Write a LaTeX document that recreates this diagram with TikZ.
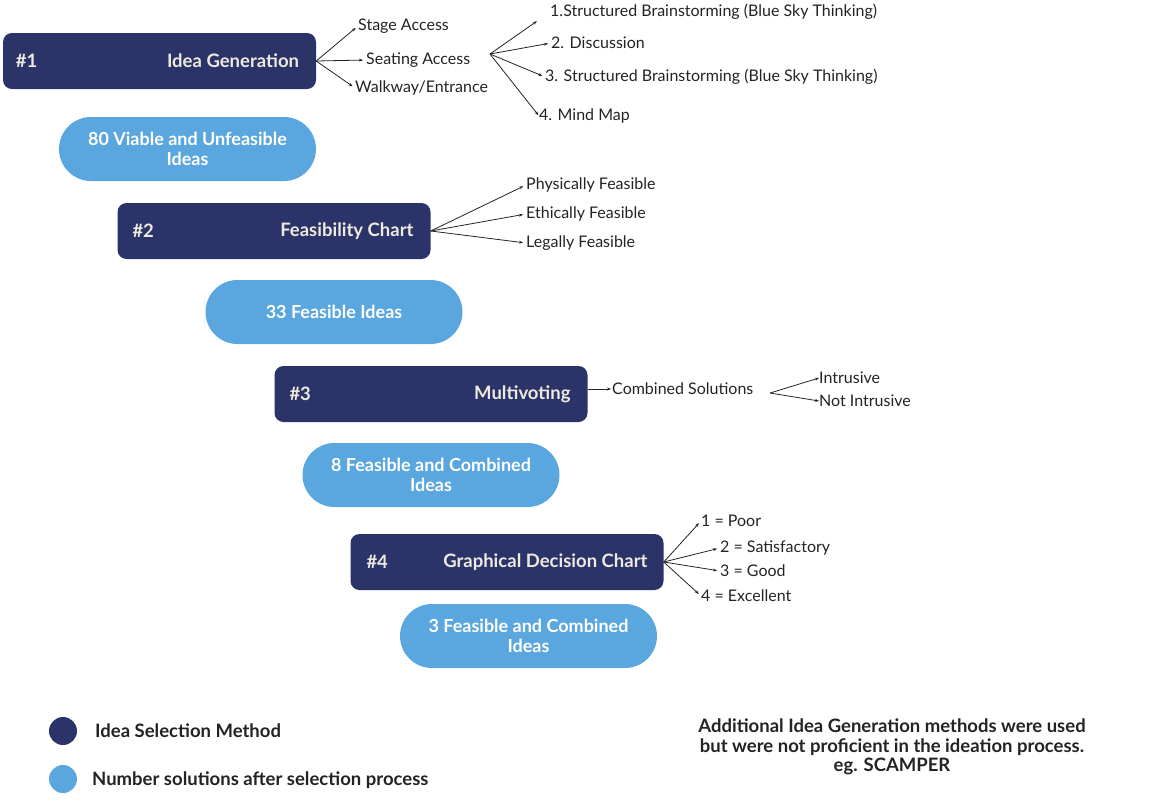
\documentclass[tikz,border=0pt]{standalone}
\usepackage{fontspec}
\setmainfont{Lato}
\usepackage{tikz}
\usetikzlibrary{arrows.meta,positioning}
\definecolor{mynavy}{RGB}{42,52,104}
\definecolor{mylightblue}{RGB}{90,166,222}
\definecolor{mycream}{RGB}{238,234,224}
\definecolor{mytext}{RGB}{35,35,35}

\begin{document}
\begin{tikzpicture}[x=1pt, y=-1pt, % one unit is one pixel of the reference
    method/.style={fill=mynavy, rounded corners=9pt, minimum width=313pt, minimum height=56pt, inner sep=0pt},
    result/.style={fill=mylightblue, rounded corners=32pt, minimum width=257pt, minimum height=64pt, inner sep=0pt,
                   text=white, align=center, font=\fontsize{18}{20}\selectfont\bfseries},
    tag/.style={text=mycream, inner sep=0pt, font=\fontsize{18.5}{20}\selectfont\bfseries},
    branch/.style={anchor=west, inner sep=0pt, text=mytext, font=\fontsize{16}{18}\selectfont},
    arr/.style={-{Stealth[length=4pt,width=3pt]}, line width=0.8pt, mytext, shorten >=3pt},
    legend/.style={anchor=west, inner sep=0pt, text=mytext, font=\fontsize{18.5}{20}\selectfont\bfseries}
  ]
  \useasboundingbox (0,0) rectangle (1152,807);

  % Selection methods (dark boxes)
  \node[method] (m1) at (159.5,61) {};
  \node[method] (m2) at (274,231) {};
  \node[method] (m3) at (431,394) {};
  \node[method] (m4) at (507,562) {};

  \node[tag, anchor=west] (n1) at ([xshift=13pt]m1.west) {\#1};
  \node[tag, anchor=east] (t1) at ([xshift=-17pt]m1.east) {Idea Generation};
  \node[tag, anchor=west] (n2) at ([xshift=15pt]m2.west) {\#2};
  \node[tag, anchor=east] (t2) at ([xshift=-17pt]m2.east) {Feasibility Chart};
  \node[tag, anchor=west] (n3) at ([xshift=15pt]m3.west) {\#3};
  \node[tag, anchor=east] (t3) at ([xshift=-17pt]m3.east) {Multivoting};
  \node[tag, anchor=west] (n4) at ([xshift=16pt]m4.west) {\#4};
  \node[tag, anchor=east] (t4) at ([xshift=-16pt]m4.east) {Graphical Decision Chart};

  % Number of solutions (light pills)
  \node[result] (r1) at (187.5,149) {80 Viable and Unfeasible\\Ideas};
  \node[result] (r2) at (334,312) {33 Feasible Ideas};
  \node[result] (r3) at (431,475) {8 Feasible and Combined\\Ideas};
  \node[result] (r4) at (528.5,636) {3 Feasible and Combined\\Ideas};

  % Branches of #1
  \node[branch] (s1) at (358,26) {Stage Access};
  \node[branch] (s2) at (366,60) {Seating Access};
  \node[branch] (s3) at (355,88) {Walkway/Entrance};
  \draw[arr] (m1.east) -- (s1.west);
  \draw[arr] (m1.east) -- (s2.west);
  \draw[arr] (m1.east) -- (s3.west);

  \coordinate (f1) at (490,54);
  \node[branch] (b1) at (550,12) {1.Structured Brainstorming (Blue Sky Thinking)};
  \node[branch] (b2) at (551,43) {2. Discussion};
  \node[branch] (b3) at (545,77) {3. Structured Brainstorming (Blue Sky Thinking)};
  \node[branch] (b4) at (539,116) {4. Mind Map};
  \draw[arr, shorten >=16pt] (f1) -- (b1.west);
  \draw[arr] (f1) -- (b2.west);
  \draw[arr] (f1) -- (b3.west);
  \draw[arr, shorten >=1pt] (f1) -- (b4.west);

  % Branches of #2
  \node[branch] (p1) at (526,185) {Physically Feasible};
  \node[branch] (p2) at (526,214) {Ethically Feasible};
  \node[branch] (p3) at (526,243) {Legally Feasible};
  \draw[arr] (m2.east) -- (p1.west);
  \draw[arr] (m2.east) -- (p2.west);
  \draw[arr] (m2.east) -- (p3.west);

  % Branches of #3
  \node[branch] (c1) at (612,389) {Combined Solutions};
  \draw[arr, shorten >=1pt] (m3.east |- c1.west) -- (c1.west);
  \coordinate (f3) at (770,393);
  \node[branch] (i1) at (819,378) {Intrusive};
  \node[branch] (i2) at (819,401) {Not Intrusive};
  \draw[arr, shorten >=0pt] (f3) -- (i1.west);
  \draw[arr, shorten >=0pt] (f3) -- (i2.west);

  % Branches of #4
  \node[branch] (g1) at (701,521) {1 = Poor};
  \node[branch] (g2) at (720,548) {2 = Satisfactory};
  \node[branch] (g3) at (720,571) {3 = Good};
  \node[branch] (g4) at (701,596) {4 = Excellent};
  \draw[arr] (m4.east) -- (g1.west);
  \draw[arr] (m4.east) -- (g2.west);
  \draw[arr] (m4.east) -- (g3.west);
  \draw[arr] (m4.east) -- (g4.west);

  % Legend
  \node[circle, fill=mynavy, minimum size=28pt, inner sep=0pt] (k1) at (63,731) {};
  \node[circle, fill=mylightblue, minimum size=28pt, inner sep=0pt] (k2) at (63,779) {};
  \node[legend] (l1) at (95,731) {Idea Selection Method};
  \node[legend] (l2) at (92,780) {Number solutions after selection process};

  \node[inner sep=0pt, align=center, text=mytext, font=\fontsize{18.5}{19.5}\selectfont\bfseries] (note) at (892,747)
    {Additional Idea Generation methods were used\\but were not proficient in the ideation process.\\eg. SCAMPER};
\end{tikzpicture}
\end{document}
